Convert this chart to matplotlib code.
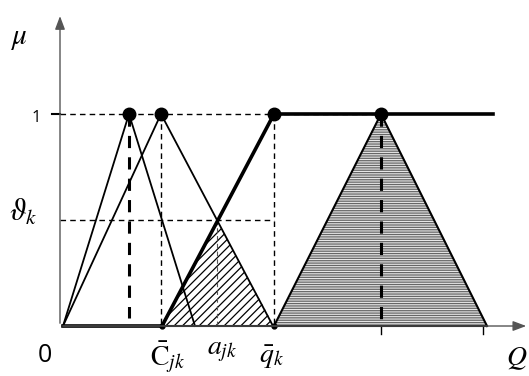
import matplotlib
matplotlib.use("Agg")
import matplotlib.pyplot as plt

plt.rcParams['mathtext.fontset'] = 'stix'
plt.rcParams['hatch.linewidth'] = 0.9

# membership functions (Q units, mu units)
tri1 = [0.0, 6.6, 13.2]        # left base, peak, right base
tri2 = [0.0, 9.8, 21.0]
c_jk = 9.9
q_k = 21.1
a_jk = 15.4
theta_k = 0.5
big_tri = [21.1, 31.8, 42.4]
top_end = 43.0
ticks_q = [31.8, 42.0]

fig = plt.figure(figsize=(5.29, 3.76), dpi=100)
ax = fig.add_axes([0, 0, 1, 1])
ax.set_xlim(-6.3, 46.6)
ax.set_ylim(-0.2358, 1.5377)
ax.axis('off')

# axes with arrows
ax.annotate('', xy=(46.6, 0), xytext=(-0.3, 0),
            arrowprops=dict(arrowstyle='-|>,head_length=0.8,head_width=0.3', color='#555555', lw=1))
ax.annotate('', xy=(-0.3, 1.475), xytext=(-0.3, 0),
            arrowprops=dict(arrowstyle='-|>,head_length=0.8,head_width=0.3', color='#555555', lw=1))

# guide lines
ax.plot([-1.1, -0.3], [1, 1], color='black', lw=1.5)
ax.plot([-0.3, big_tri[1]], [1, 1], color='black', lw=1, dashes=(4, 3))
ax.plot([-0.3, q_k], [theta_k, theta_k], color='black', lw=1, dashes=(4, 3))
ax.plot([tri1[1], tri1[1]], [1, 0.04], color='black', lw=2.2, dashes=(4, 3))
ax.plot([tri2[1], tri2[1]], [1, 0], color='black', lw=1, dashes=(4, 3))
ax.plot([q_k, q_k], [1, 0], color='black', lw=1, dashes=(4, 3))
ax.plot([a_jk, a_jk], [theta_k, 0], color='#555555', lw=0.8, dashes=(4, 3))
ax.plot([big_tri[1], big_tri[1]], [1, 0], color='black', lw=2.2, dashes=(4, 3))

# shaded regions
ax.fill([c_jk, a_jk, q_k], [0, theta_k, 0], facecolor='white', edgecolor='black',
        hatch='////', lw=0)
ax.fill(big_tri, [0, 1, 0], facecolor='#e8e8e8', edgecolor='#666666',
        hatch='-------', lw=0)

# triangles
ax.plot(tri1, [0, 1, 0], color='black', lw=1.3)
ax.plot(tri2, [0, 1, 0], color='black', lw=1.3)
ax.plot(big_tri, [0, 1, 0], color='black', lw=1.5)
ax.plot([0, big_tri[2]], [0, 0], color='black', lw=1.5)

# thick membership line
ax.plot([0, c_jk, q_k, top_end], [0, 0, 1, 1], color='black', lw=2.6,
        solid_joinstyle='miter')

# tick marks on Q axis
for t in ticks_q:
    ax.plot([t, t], [0, -0.04], color='black', lw=1)

# points
ax.plot([tri1[1], tri2[1], q_k, big_tri[1]], [1, 1, 1, 1], 'o', color='black', ms=9)
ax.plot([c_jk, q_k], [0, 0], 'o', color='black', ms=3.5)

# labels
ax.text(-4.3, 1.36, r'$\mu$', fontsize=21, ha='center', va='center')
ax.text(-2.7, 0.98, '1', fontsize=12, ha='center', va='center', family='Open Sans')
ax.text(-4.0, 0.54, r'$\vartheta_k$', fontsize=22, ha='center', va='center')
ax.text(-1.8, -0.137, '0', fontsize=18, ha='center', va='center', family='Open Sans')
ax.text(10.5, -0.146, r'$\bar{\mathrm{C}}_{jk}$', fontsize=20, ha='center', va='center')
ax.text(15.9, -0.113, r'$a_{jk}$', fontsize=20, ha='center', va='center')
ax.text(20.9, -0.146, r'$\bar{q}_k$', fontsize=20, ha='center', va='center')
ax.text(44.3, -0.15, r'$Q$', fontsize=20, ha='left', va='center')

fig.savefig('out.png', dpi=100)
